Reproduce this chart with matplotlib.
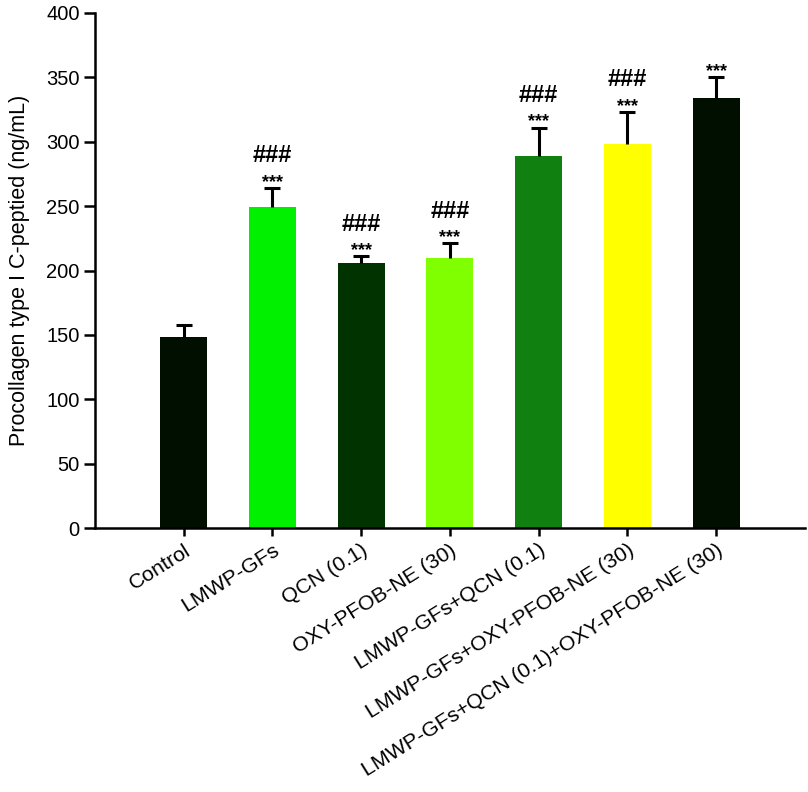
import matplotlib
matplotlib.use("Agg")
import matplotlib.pyplot as plt
import numpy as np

plt.rcParams['font.family'] = ['Liberation Sans', 'DejaVu Sans']

categories = ["Control", "LMWP-GFs", "QCN (0.1)", "OXY-PFOB-NE (30)",
              "LMWP-GFs+QCN (0.1)", "LMWP-GFs+OXY-PFOB-NE (30)",
              "LMWP-GFs+QCN (0.1)+OXY-PFOB-NE (30)"]
values = [148, 249, 206, 210, 289, 298, 334]
errors = [10, 15, 5, 11, 22, 25, 16]
stars = ["", "***", "***", "***", "***", "***", "***"]
hashes = ["", "###", "###", "###", "###", "###", ""]
colors = ["#000f00", "#00f000", "#003300", "#80ff00", "#108010", "#ffff00", "#000f00"]
yticks = [0, 50, 100, 150, 200, 250, 300, 350, 400]

fig = plt.figure(figsize=(8.08, 7.92), dpi=100)
ax = fig.add_axes([0.1176, 0.3333, 0.8784, 0.6503])
x = np.arange(len(categories))
vals = np.array(values)
errs = np.array(errors)
ax.bar(x, vals, width=0.53, color=colors, zorder=2)
# upward-only error bars with a single top cap
ax.vlines(x, vals, vals + errs, colors='black', linewidth=2.2, zorder=3)
ax.hlines(vals + errs, x - 0.09, x + 0.09, colors='black', linewidth=2.2, zorder=3)
for xi, v, e, s, h in zip(x, vals, errs, stars, hashes):
    top = v + e
    if s:
        ax.text(xi, top + 0.8, s, ha='center', va='baseline', fontsize=13, fontweight='bold')
    if h:
        ax.text(xi, top + 20, h, ha='center', va='baseline', fontsize=17, fontweight='bold')

ax.set_xlim(-1, 7)
ax.set_ylim(0, 400)
ax.set_yticks(yticks)
ax.set_xticks(x)
ax.set_xticklabels(categories, rotation=32, ha='right', rotation_mode='anchor',
                   fontsize=15.3)
ax.tick_params(axis='y', labelsize=14.5, length=8, width=1.8, direction='out', pad=3)
ax.tick_params(axis='x', length=6, width=1.8, direction='out', pad=3)
ax.spines['top'].set_visible(False)
ax.spines['right'].set_visible(False)
ax.spines['left'].set_linewidth(1.8)
ax.spines['bottom'].set_linewidth(1.8)
ax.set_ylabel("Procollagen type I C-peptied (ng/mL)", fontsize=15.5, labelpad=12)

fig.savefig("out.png", dpi=100)
